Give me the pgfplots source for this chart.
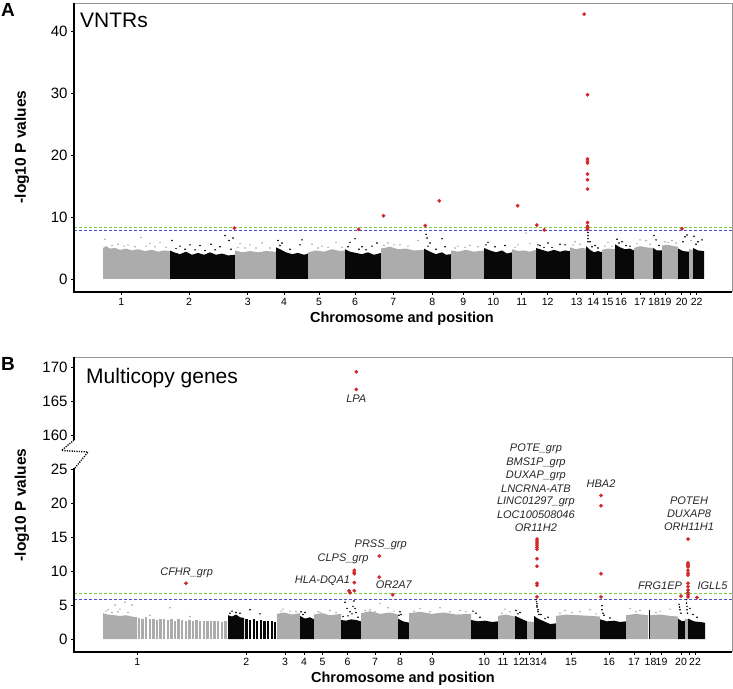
\documentclass[border=0pt]{standalone}
\usepackage{pgfplots}
\pgfplotsset{compat=1.18}
\usepackage{fontspec}
\setmainfont{Liberation Sans}
\definecolor{dotred}{RGB}{210,40,40}
\definecolor{thrgreen}{RGB}{120,205,70}
\definecolor{thrblue}{RGB}{80,80,205}
\definecolor{mgray}{RGB}{172,172,172}
\definecolor{mblack}{RGB}{8,8,8}
\definecolor{framegray}{RGB}{150,150,150}
\pgfplotsset{
  mh/.style={
    scale only axis, clip=false,
    xmin=74, xmax=732,
    axis line style={draw=none},
    tick pos=left, tick align=outside,
    major tick length=3pt,
    major tick style={black, line width=0.6pt},
    yticklabel style={font=\fontsize{15}{17}\selectfont},
    xticklabel style={font=\fontsize{10.5}{12}\selectfont},
  },
  blk/.style={fill=mblack, draw=none},
  gry/.style={fill=mgray, draw=none},
  gdot/.style={only marks, mark=*, mark size=0.55pt, color=mgray, mark options={draw=mgray, fill=mgray}},
  bdot/.style={only marks, mark=*, mark size=0.55pt, color=mblack, mark options={draw=mblack, fill=mblack}},
  rdot/.style={only marks, mark=*, mark size=1.8pt, color=dotred, mark options={draw=dotred, fill=dotred, line width=0.2pt}},
  thrg/.style={color=thrgreen, line width=0.8pt, dash pattern=on 3pt off 2pt},
  thrb/.style={color=thrblue, line width=0.8pt, dash pattern=on 3pt off 2pt},
}
\tikzset{gene/.style={font=\itshape\fontsize{11}{12}\selectfont, text=black!85, inner sep=0pt}}
\begin{document}
\begin{tikzpicture}
\path[use as bounding box] (0pt,0pt) rectangle (733pt,-688pt);
% ---------------- Panel A ----------------
\begin{axis}[mh, at={(74pt,-292pt)}, anchor=south west, width=658pt, height=289pt,
  ymin=-2.1, ymax=44.5, ytick={0,10,20,30,40}, yticklabels={0,10,20,30,40},
  xtick={121.3,189,247.7,284,319,355,393.3,432.3,463.3,493.3,521.7,547.7,576.7,593.3,607.7,621,640,654,665.7,681.7,690.7,696.7},
  xticklabels={1,2,3,4,5,6,7,8,9,10,11,12,13,14,15,16,17,18,19,20,,22},
]
\addplot[gry] coordinates {(103,0)(103,5.0)(106,5.3)(110,4.9)(115,5.0)(120,4.7)(126,4.9)(132,4.6)(138,4.8)(145,4.5)(152,4.7)(158,4.4)(164,4.6)(170,4.5)(170,0)};
\addplot[blk] coordinates {(170,0)(170,4.6)(174,4.3)(180,4.0)(186,4.4)(192,3.9)(198,4.2)(204,3.9)(210,4.3)(216,3.9)(222,4.1)(228,3.8)(235,3.9)(235,0)};
\addplot[gry] coordinates {(235,0)(235,4.6)(242,4.3)(250,4.5)(258,4.3)(266,4.5)(276,4.4)(276,0)};
\addplot[blk] coordinates {(276,0)(276,5.1)(280,4.8)(286,4.3)(292,4.0)(298,4.2)(304,3.9)(308,4.1)(308,0)};
\addplot[gry] coordinates {(308,0)(308,4.3)(316,4.6)(324,4.4)(332,4.8)(340,4.5)(345,4.6)(345,0)};
\addplot[blk] coordinates {(345,0)(345,4.8)(350,4.4)(356,4.2)(362,4.0)(368,4.3)(374,3.9)(381,4.2)(381,0)};
\addplot[gry] coordinates {(381,0)(381,4.9)(390,5.2)(398,4.8)(406,4.9)(414,4.6)(424,4.7)(424,0)};
\addplot[blk] coordinates {(424,0)(424,4.9)(430,4.4)(436,4.0)(442,4.3)(446,3.9)(451,4.0)(451,0)};
\addplot[gry] coordinates {(451,0)(451,4.6)(458,4.4)(466,4.7)(474,4.4)(484,4.6)(484,0)};
\addplot[blk] coordinates {(484,0)(484,5.0)(490,4.6)(496,4.3)(502,4.6)(507,4.1)(512,4.3)(512,0)};
\addplot[gry] coordinates {(512,0)(512,4.8)(518,4.5)(524,4.6)(530,4.4)(536,4.7)(536,0)};
\addplot[blk] coordinates {(536,0)(536,5.0)(542,4.7)(548,4.4)(554,4.7)(560,4.4)(565,4.6)(570,4.5)(570,0)};
\addplot[gry] coordinates {(570,0)(570,5.1)(576,4.8)(582,5.0)(586,4.9)(586,0)};
\addplot[blk] coordinates {(586,0)(586,5.3)(590,4.7)(594,4.3)(598,4.5)(602,4.3)(602,0)};
\addplot[gry] coordinates {(602,0)(602,4.7)(608,4.9)(615,4.8)(615,0)};
\addplot[blk] coordinates {(615,0)(615,5.6)(620,5.1)(625,4.8)(630,4.9)(634,4.6)(634,0)};
\addplot[gry] coordinates {(634,0)(634,5.0)(640,5.3)(646,5.1)(653,5.0)(653,0)};
\addplot[blk] coordinates {(653,0)(653,5.0)(657,4.6)(662,4.6)(662,0)};
\addplot[gry] coordinates {(662,0)(662,5.4)(668,5.5)(674,5.3)(678,5.2)(678,0)};
\addplot[blk] coordinates {(678,0)(678,4.9)(683,4.5)(689,4.4)(689,0)};
\addplot[gry] coordinates {(689,0)(689,4.8)(693,4.7)(693,0)};
\addplot[blk] coordinates {(693,0)(693,5.0)(698,4.6)(704,4.5)(704,0)};
\addplot[gdot] coordinates {(105,6.4)(112,5.4)(118,5.6)(124,5.3)(128,5.5)(135,5.2)(141,6.7)(146,5.3)(150,5.7)(155,5.2)(160,5.9)(166,5.1)(238,5.1)(240,5.7)(245,5.0)(250,5.5)(256,5.0)(262,5.8)(270,5.0)(312,5.6)(318,5.0)(322,5.3)(328,5.1)(336,5.9)(342,5.1)(384,5.4)(388,5.8)(394,5.5)(400,5.5)(408,5.3)(418,6.2)(455,5.0)(458,5.3)(465,5.1)(470,5.4)(478,5.2)(515,5.1)(518,5.5)(526,7.4)(530,5.7)(573,5.5)(575,6.0)(580,5.6)(605,5.3)(608,5.9)(612,5.3)(637,5.7)(640,6.3)(646,6.2)(650,5.6)(665,6.0)(668,5.9)(672,6.2)(676,5.8)(691,6.2)};
\addplot[bdot] coordinates {(172,6.2)(176,4.9)(180,5.3)(185,4.8)(190,5.5)(195,4.7)(200,5.4)(205,4.6)(211,5.6)(215,4.7)(220,5.2)(225,7.0)(229,6.2)(231,4.8)(233,6.6)(278,6.2)(280,5.4)(282,5.8)(290,4.8)(300,5.5)(302,6.3)(348,5.2)(350,5.9)(355,6.5)(359,4.8)(362,5.2)(366,4.7)(372,5.3)(377,5.8)(426,7.2)(427,6.6)(428,5.3)(430,5.8)(436,4.8)(442,6.5)(445,5.2)(486,5.5)(488,5.9)(495,5.2)(505,5.4)(538,5.5)(540,5.4)(544,5.1)(548,5.8)(552,5.1)(560,5.6)(565,5.5)(588,7.5)(588,7.0)(588,6.5)(588,6.0)(590,6.0)(592,5.2)(595,5.4)(598,5.0)(617,6.4)(619,5.8)(622,6.0)(626,5.4)(630,5.3)(654,7.0)(656,6.3)(659,5.4)(683,6.0)(685,6.8)(687,7.1)(694,6.9)(696,5.6)(698,6.0)(702,6.3)};
\addplot[thrg] coordinates {(74,8.27)(732,8.27)};
\addplot[thrb] coordinates {(74,7.85)(732,7.85)};
\addplot[rdot] coordinates {(234.4,8.2)(358.6,8.0)(383.5,10.2)(425.2,8.6)(439.3,12.6)(517.6,11.8)(536.8,8.7)(544.3,7.9)(584.2,42.7)(587.5,29.7)(587.5,19.35)(587.5,19.0)(587.5,18.7)(587.5,16.9)(587.5,16.0)(587.5,14.5)(587.5,9.1)(587.5,8.5)(587.5,8.2)(587.5,8.0)(682,8.1)};
\draw[framegray, line width=0.8pt] (rel axis cs:0,1) -- (rel axis cs:1,1) -- (rel axis cs:1,0);
\draw[black, line width=1.8pt] (rel axis cs:0,1) -- (rel axis cs:0,0) -- (rel axis cs:1,0);
\end{axis}
% ---------------- Panel B ----------------
\begin{axis}[mh, at={(74pt,-652pt)}, anchor=south west, width=658pt, height=295pt,
  ymin=-1.91, ymax=41.47, ytick={0,5,10,15,20,25,30,35,40}, yticklabels={0,5,10,15,20,25,160,165,170},
  xtick={137.3,246.3,285,304,322.5,347.5,375,400,432,484,503,519,529.5,541,571,609,634,650.5,661.5,681,689,695},
  xticklabels={1,2,3,4,5,6,7,8,9,10,11,12,13,14,15,16,17,18,19,20,,22},
]
\addplot[gry] coordinates {(103,0)(103,3.8)(108,3.6)(114,3.5)(120,3.4)(126,3.5)(132,3.3)(137,3.2)(137,0)};
\addplot[ycomb, mgray, line width=2.3pt] coordinates {(139,3.1)(142.6,3.0)(146.2,3.2)(149.8,2.9)(153.4,3.0)(157,2.8)(160.6,3.0)(164.2,2.9)(167.8,2.8)(171.4,2.9)(175,2.7)(178.6,2.9)(182.2,2.8)(185.8,2.7)(189.4,2.8)(193,2.6)(196.6,2.8)(200.2,2.7)(203.8,2.6)(207.4,2.7)(211,2.6)(214.6,2.7)(218.2,2.6)(221.8,2.5)(225.4,2.6)};
\addplot[blk] coordinates {(228,0)(228,3.5)(232,3.3)(236,3.6)(240,3.2)(244,3.1)(244,0)};
\addplot[ycomb, mblack, line width=2.3pt] coordinates {(246.5,3.0)(250.1,2.8)(253.7,2.9)(257.3,2.7)(260.9,2.8)(264.5,2.6)(268.1,2.7)(271.7,2.6)(275.3,2.5)};
\addplot[gry] coordinates {(277,0)(277,3.7)(284,3.9)(292,3.6)(300,3.8)(300,0)};
\addplot[blk] coordinates {(300,0)(300,3.4)(305,3.0)(310,3.2)(314,2.9)(314,0)};
\addplot[gry] coordinates {(314,0)(314,3.6)(322,3.8)(330,3.5)(341,3.7)(341,0)};
\addplot[blk] coordinates {(341,0)(341,2.8)(346,2.7)(351,2.9)(356,2.8)(361,2.6)(361,0)};
\addplot[gry] coordinates {(361,0)(361,3.8)(370,4.1)(380,3.7)(390,3.9)(398,3.6)(398,0)};
\addplot[blk] coordinates {(398,0)(398,3.0)(403,2.6)(409,2.4)(409,0)};
\addplot[gry] coordinates {(409,0)(409,3.8)(420,4.0)(432,3.7)(444,3.9)(456,3.6)(471,3.7)(471,0)};
\addplot[blk] coordinates {(471,0)(471,2.8)(478,2.6)(485,2.7)(492,2.5)(498,2.6)(498,0)};
\addplot[gry] coordinates {(498,0)(498,3.4)(506,3.6)(515,3.3)(515,0)};
\addplot[blk] coordinates {(515,0)(515,3.4)(521,3.0)(527,2.6)(527,0)};
\addplot[gry] coordinates {(527,0)(527,2.6)(534,2.5)(534,0)};
\addplot[blk] coordinates {(534,0)(534,3.4)(538,3.0)(544,2.6)(550,2.2)(556,2.3)(556,0)};
\addplot[gry] coordinates {(556,0)(556,3.4)(566,3.6)(578,3.5)(590,3.4)(600,3.3)(600,0)};
\addplot[blk] coordinates {(600,0)(600,2.9)(607,2.6)(614,2.7)(620,2.5)(626,2.6)(626,0)};
\addplot[gry] coordinates {(626,0)(626,3.5)(636,3.7)(648,3.5)(648,0)};
\addplot[gry] coordinates {(650,0)(650,3.5)(660,3.6)(670,3.4)(678,3.3)(678,0)};
\addplot[blk] coordinates {(648.6,0)(648.6,4.3)(650.4,4.3)(650.4,0)};
\addplot[blk] coordinates {(678,0)(678,3.0)(682,2.6)(685,2.7)(685,0)};
\addplot[gry] coordinates {(685,0)(685,3.0)(688,2.9)(688,0)};
\addplot[blk] coordinates {(688,0)(688,3.0)(694,2.6)(700,2.5)(705,2.4)(705,0)};
\addplot[gdot] coordinates {(106,4.1)(108,4.3)(112,3.9)(115,5.0)(118,4.0)(120,4.4)(125,5.4)(128,3.9)(132,5.0)(150,3.5)(170,4.6)(190,3.3)(281,4.1)(283,4.4)(290,4.1)(296,4.0)(318,4.0)(320,3.9)(330,4.2)(336,3.9)(365,4.2)(370,4.3)(375,4.0)(380,5.2)(388,4.6)(394,4.1)(414,4.1)(420,4.5)(430,4.0)(440,4.6)(450,4.0)(460,4.2)(466,4.0)(502,3.8)(505,4.4)(510,4.0)(560,3.8)(565,4.2)(572,3.9)(580,4.0)(590,4.3)(596,3.7)(630,4.5)(636,4.0)(640,4.2)(656,3.9)(660,4.1)(670,4.4)};
\addplot[bdot] coordinates {(230,3.8)(232,4.1)(236,3.9)(240,3.8)(250,4.3)(260,3.7)(301,4.0)(303,3.6)(305,3.9)(343,3.3)(345,5.4)(347,4.5)(348,3.4)(350,4.0)(352,3.7)(353,4.8)(354,5.6)(355,4.5)(356,3.9)(358,3.2)(399,3.5)(400,4.0)(401,3.6)(473,4.1)(476,3.8)(480,3.2)(516,4.2)(518,3.7)(520,3.9)(536,5.8)(536.5,5.5)(537,5.2)(537,4.9)(537,4.7)(538,4.3)(538,4.0)(539,3.6)(541,3.6)(545,3.0)(548,3.2)(602,4.9)(602,4.3)(603,3.8)(604,3.5)(610,3.1)(679,5.1)(679.5,4.7)(680,4.3)(681,3.8)(686.5,5.8)(686.5,5.3)(687,4.8)(687,4.3)(687.5,3.8)(690,4.5)(693,3.6)(697,3.2)};
\addplot[thrg] coordinates {(74,6.7)(732,6.7)};
\addplot[thrb] coordinates {(74,5.88)(732,5.88)};
\addplot[rdot] coordinates {(186,8.2)(349,7.1)(350,6.8)(354.3,10.1)(354.3,9.8)(354.3,9.6)(354.3,8.3)(354.3,7.1)(356.3,39.3)(356.3,36.7)(379.3,12.2)(379.3,9.1)(392.7,6.5)(537,14.7)(537,14.4)(537,14.1)(537,13.8)(537,13.5)(537,13.2)(537,11.8)(537,10.7)(537,8.2)(537,7.9)(537,6.2)(601,21.1)(601,19.6)(601,9.6)(601,6.2)(688,14.7)(688,11.2)(688,11.0)(688,10.8)(688,10.6)(688,10.1)(688,9.7)(688,9.4)(688,8.2)(688,7.7)(688,7.2)(688,6.8)(688,6.5)(688,6.2)(681,6.3)(697,6.1)};
\node[gene] at (axis cs:186.6,9.81) {CFHR\_grp};
\node[gene] at (axis cs:322.5,8.53) {HLA-DQA1};
\node[gene] at (axis cs:343,11.76) {CLPS\_grp};
\node[gene] at (axis cs:380.7,13.87) {PRSS\_grp};
\node[gene] at (axis cs:393.8,8.04) {OR2A7};
\node[gene] at (axis cs:356.3,35.29) {LPA};
\node[gene] at (axis cs:535.9,27.9) {POTE\_grp};
\node[gene] at (axis cs:535.9,25.93) {BMS1P\_grp};
\node[gene] at (axis cs:535.9,24.01) {DUXAP\_grp};
\node[gene] at (axis cs:535.9,22.1) {LNCRNA-ATB};
\node[gene] at (axis cs:535.9,20.19) {LINC01297\_grp};
\node[gene] at (axis cs:535.9,18.34) {LOC100508046};
\node[gene] at (axis cs:535.9,16.43) {OR11H2};
\node[gene] at (axis cs:601,22.79) {HBA2};
\node[gene] at (axis cs:689,20.34) {POTEH};
\node[gene] at (axis cs:689,18.38) {DUXAP8};
\node[gene] at (axis cs:689,16.51) {ORH11H1};
\node[gene] at (axis cs:660,7.79) {FRG1EP};
\node[gene] at (axis cs:712.6,7.79) {IGLL5};
\draw[framegray, line width=0.8pt] (rel axis cs:0,1) -- (rel axis cs:1,1) -- (rel axis cs:1,0);
\draw[black, line width=1.8pt] (axis cs:74,41.47) -- (axis cs:74,29.26);
\draw[black, line width=1.8pt] (axis cs:74,25.15) -- (axis cs:74,-1.91) -- (axis cs:732,-1.91);
\draw[black, line width=1.3pt, dash pattern=on 1.2pt off 1.2pt] (axis cs:74,29.26) -- (axis cs:61.5,27.72) -- (axis cs:88,27.5) -- (axis cs:75,25.15);
\end{axis}
% ---------------- Text ----------------
\node[anchor=west, inner sep=0pt, font=\bfseries\fontsize{19}{20}\selectfont] at (1pt,-10pt) {A};
\node[anchor=west, inner sep=0pt, font=\bfseries\fontsize{19}{20}\selectfont] at (1pt,-364pt) {B};
\node[anchor=west, inner sep=0pt, font=\fontsize{21}{22}\selectfont] at (80pt,-20pt) {VNTRs};
\node[anchor=west, inner sep=0pt, font=\fontsize{21}{22}\selectfont] at (86pt,-378pt) {Multicopy genes};
\node[rotate=90, inner sep=0pt, font=\bfseries\fontsize{15.5}{16}\selectfont] at (22pt,-147pt) {-log10 P values};
\node[rotate=90, inner sep=0pt, font=\bfseries\fontsize{15.5}{16}\selectfont] at (22pt,-505pt) {-log10 P values};
\node[inner sep=0pt, font=\bfseries\fontsize{14.5}{16}\selectfont] at (402pt,-319pt) {Chromosome and position};
\node[inner sep=0pt, font=\bfseries\fontsize{14.5}{16}\selectfont] at (403pt,-679pt) {Chromosome and position};
\end{tikzpicture}
\end{document}
